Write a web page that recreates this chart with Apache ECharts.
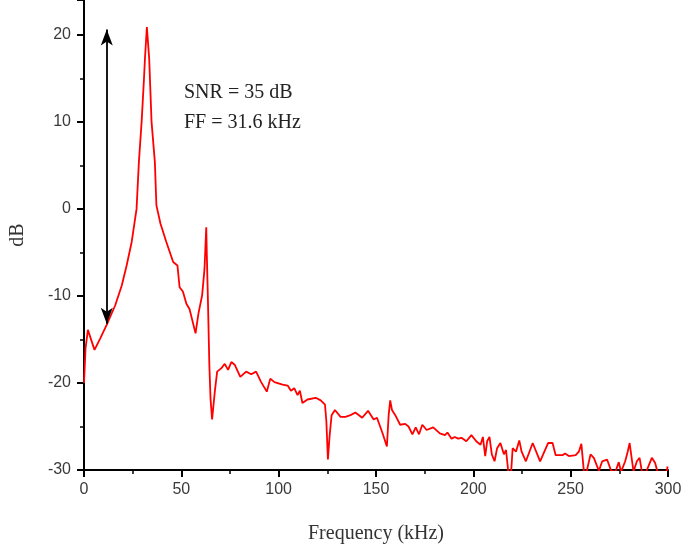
<!DOCTYPE html>
<html>
<head>
<meta charset="utf-8">
<script src="https://cdn.jsdelivr.net/npm/echarts@6/dist/echarts.min.js"></script>
<style>html,body{margin:0;padding:0;background:#fff;}#c{width:685px;height:549px;}</style>
</head>
<body>
<div id="c"></div>
<script>
var freq = [0,0.8,2,5.4,8.3,11.7,16,19.4,21.9,24.5,27,28.2,29.6,30.8,31.3,32.3,33.5,34.7,36.4,37.2,39.3,42.3,45.8,48,49.1,50.8,52.6,54.2,57.3,58.8,59.8,60.7,61.9,62.8,63.1,63.6,64.4,65,65.8,67.2,68.4,70.6,72.3,74,75.7,77.4,80.3,83.3,85.9,88.4,91,93.9,95.7,97.8,102,104.6,106.3,108,109.7,110.9,112.2,114.8,119,121.6,123.8,124.5,125.3,126.2,127.2,128.9,131.8,134.3,136.9,139.4,142.9,145.9,148.8,150.5,153.1,155.6,156.5,157.3,158.2,159.9,162.4,165,166.7,168.7,170.4,172.1,173.8,176,179.4,182.8,185.4,186.7,188.8,190.5,192.2,193.9,196.4,199,201.5,203.7,204.9,206.1,207.1,208.3,209.5,210.9,212.2,213.9,215.7,216.8,218,219.4,220.2,221.9,223.6,224.8,227,230.5,234.3,238.4,240.7,242.3,245.8,247.1,249.1,252.6,254.2,255.5,256.8,258.2,260.2,261.9,264.5,266.2,268.7,270.8,273,274.7,275.9,278,279.3,280.3,281,282.3,284,285.4,286.6,288.8,291.7,293.4,294.6,299.3,299.8];
var db = [-20,-16,-13.9,-16.2,-14.9,-13.3,-11.1,-8.8,-6.5,-3.8,0,5.4,10,14.9,17.2,20.9,17.2,10,5.4,0.4,-1.7,-3.8,-6.1,-6.5,-9,-9.5,-10.9,-11.5,-14.3,-12,-12.2,-9.9,-6.9,-2.1,-5.3,-9.9,-18,-21.8,-24.2,-21,-18.7,-18.3,-17.8,-18.5,-17.6,-17.9,-19.3,-18.7,-19,-18.7,-19.9,-21,-19.5,-19.9,-20.2,-20.3,-20.9,-20.6,-21.4,-20.9,-22.3,-21.9,-21.7,-22,-22.5,-24.4,-28.8,-26,-23.7,-23.1,-23.9,-23.9,-23.7,-23.4,-24,-23.2,-24.2,-24,-25.6,-27.3,-23.7,-22,-23.1,-23.7,-24.8,-24.7,-25,-25.9,-25.1,-25.9,-24.8,-25.4,-25.1,-25.8,-26,-25.7,-26.4,-26.2,-26.4,-26.3,-26.7,-26,-26.7,-27.1,-26.2,-28.4,-26.7,-26.2,-28.2,-29,-27.5,-26.9,-28.2,-27.7,-30.3,-30.3,-27.5,-27.9,-26.6,-27.9,-29,-26.9,-29,-26.9,-26.9,-28.3,-28.3,-28.1,-28.4,-28.3,-27.9,-27,-30.2,-30.2,-28.2,-28.6,-30.1,-29,-28.8,-30.1,-30.2,-29.1,-30.2,-29,-27.9,-26.9,-28.1,-30.2,-29,-28.6,-30.2,-30.2,-28.6,-29.2,-30.2,-30.2,-29.6];
var xTicks = [0,50,100,150,200,250,300];
var yTicks = [-30,-20,-10,0,10,20];
var arrowX = 11.7, arrowTop = 20.6, arrowBottom = -13.2;
var notes = ['SNR = 35 dB', 'FF = 31.6 kHz'];

var pts = freq.map(function(f,i){return [f, db[i]];});
var chart = echarts.init(document.getElementById('c'), null, {renderer:'canvas'});
var labelFont = {color:'#3a3a3a', fontFamily:'Liberation Sans, Arial, sans-serif', fontSize:16};
chart.setOption({
  animation:false,
  backgroundColor:'#fff',
  grid:{left:78, right:17, top:0, bottom:77},
  xAxis:{
    type:'value', min:0, max:300, interval:50,
    name:'Frequency (kHz)', nameLocation:'middle', nameGap:54,
    nameTextStyle:{fontFamily:'Liberation Serif, Times New Roman, serif', fontSize:20, color:'#333'},
    axisLine:{onZero:false, lineStyle:{color:'#000', width:2}},
    axisTick:{inside:false, length:7, lineStyle:{color:'#000', width:2}},
    minorTick:{show:true, splitNumber:2, length:4, lineStyle:{color:'#000', width:1.5}},
    splitLine:{show:false},
    axisLabel:Object.assign({margin:12, formatter:function(v){return xTicks.indexOf(v)>=0?String(v):'';}}, labelFont)
  },
  yAxis:[{
    type:'value', min:-30, max:24, interval:10,
    name:'dB', nameLocation:'middle', nameGap:56, nameRotate:90,
    nameTextStyle:{fontFamily:'Liberation Serif, Times New Roman, serif', fontSize:20, color:'#333'},
    axisLine:{show:true, onZero:false, lineStyle:{color:'#000', width:2}},
    axisTick:{inside:false, length:7, lineStyle:{color:'#000', width:2}},
    minorTick:{show:true, splitNumber:2, length:4, lineStyle:{color:'#000', width:1.5}},
    splitLine:{show:false},
    axisLabel:Object.assign({margin:13, showMaxLabel:false, formatter:function(v){return yTicks.indexOf(v)>=0?String(v):'';}}, labelFont)
  },{
    type:'value', min:-30, max:24, position:'right',
    axisLine:{show:true, lineStyle:{color:'#000', width:2}},
    axisTick:{show:false}, axisLabel:{show:false}, splitLine:{show:false}
  }],
  series:[{
    type:'line', data:pts, showSymbol:false, symbol:'none', clip:true,
    lineStyle:{color:'#ff0000', width:1.8},
    markLine:{
      silent:true, symbol:['arrow','arrow'], symbolSize:[9,16],
      label:{show:false},
      lineStyle:{color:'#000', width:1.8, type:'solid'},
      data:[[{coord:[arrowX, arrowBottom]},{coord:[arrowX, arrowTop]}]]
    }
  }],
  graphic:[
    {type:'text', left:184, top:83, style:{text:notes[0], fontFamily:'Liberation Serif, Times New Roman, serif', fontSize:20, fill:'#222'}},
    {type:'text', left:184, top:113, style:{text:notes[1], fontFamily:'Liberation Serif, Times New Roman, serif', fontSize:20, fill:'#222'}}
  ]
});
</script>
</body>
</html>
